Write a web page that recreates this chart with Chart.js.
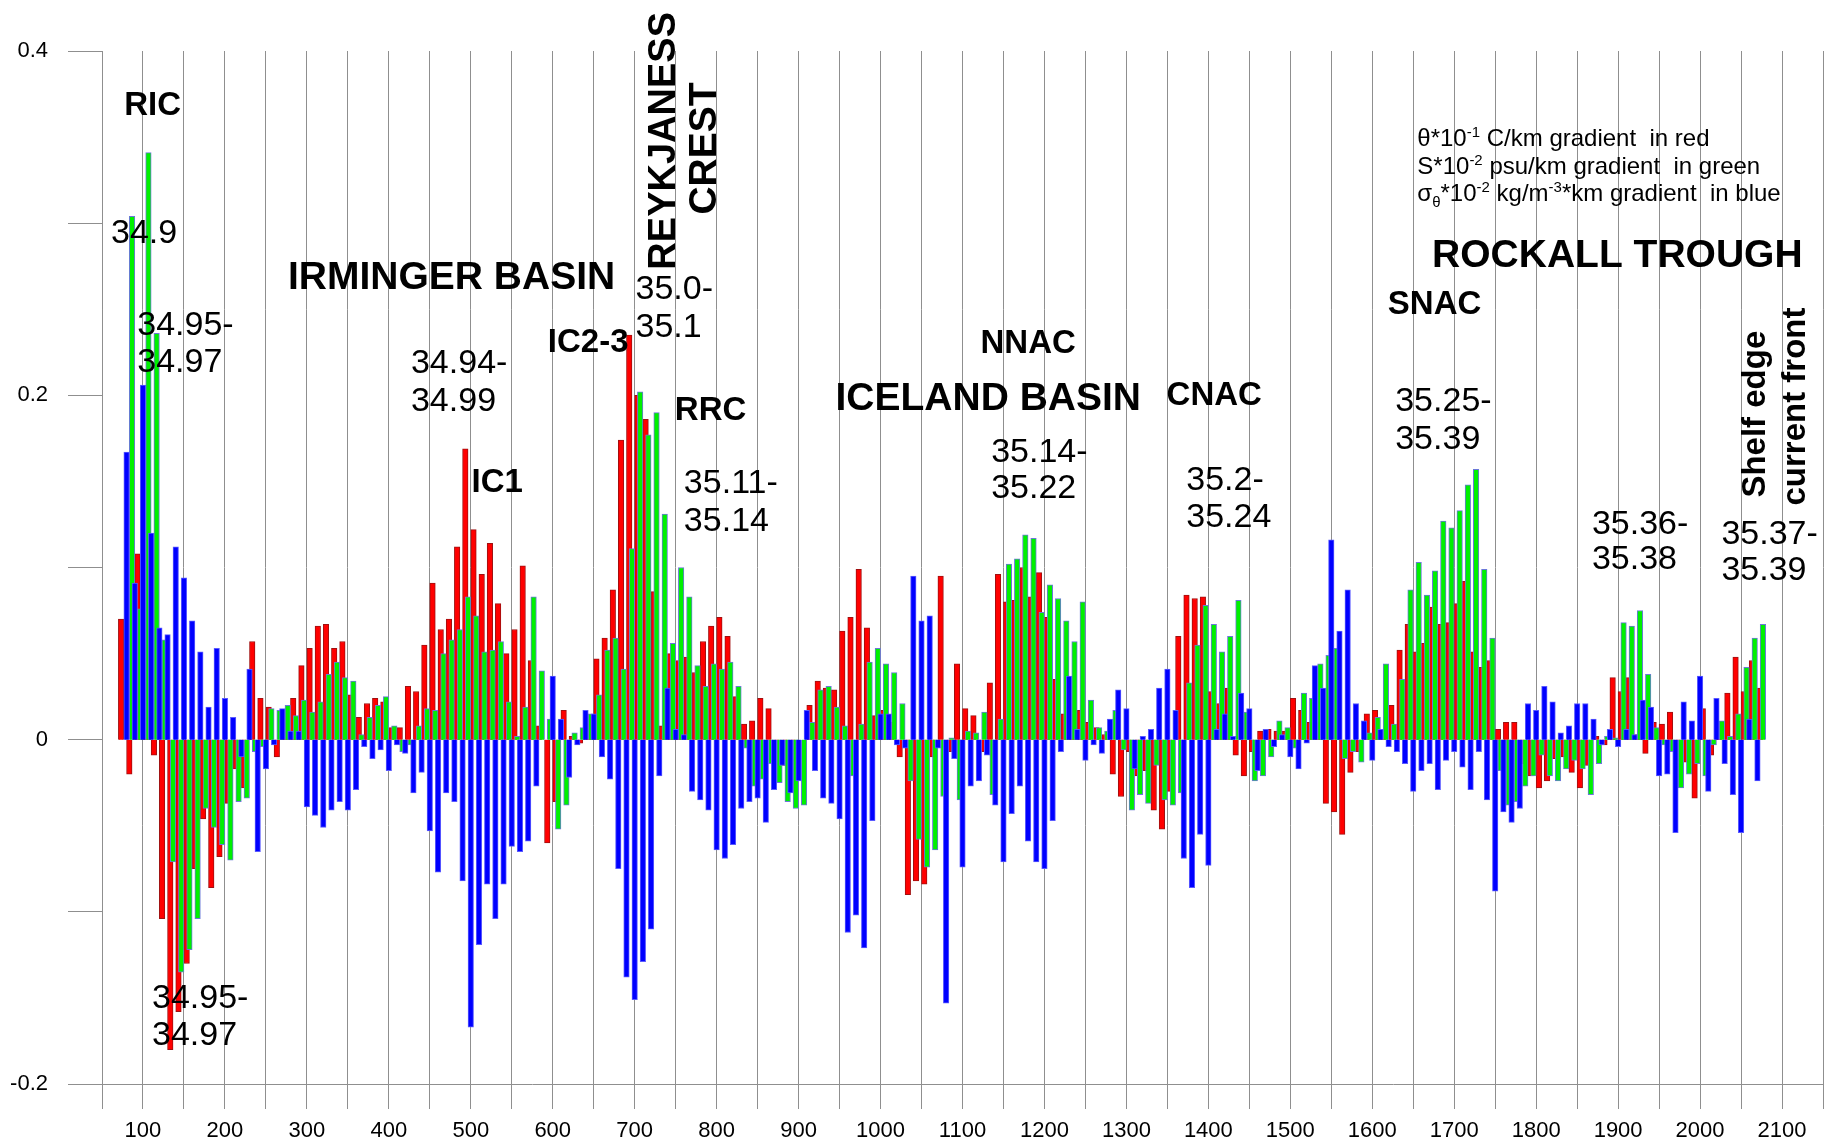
<!DOCTYPE html>
<html>
<head>
<meta charset="utf-8">
<script src="https://cdn.jsdelivr.net/npm/chart.js@4.4.1/dist/chart.umd.min.js"></script>
<style>
  html, body { margin: 0; padding: 0; background: #fff; }
  canvas { display: block; }
</style>
</head>
<body>
<canvas id="chart" width="1824" height="1146"></canvas>
<script>
// Station positions along the section (km)
const km = [
  80, 90, 100, 110, 120, 130, 140, 150, 160, 170,
  180, 190, 200, 210, 220, 230, 240, 250, 260, 270,
  280, 290, 300, 310, 320, 330, 340, 350, 360, 370,
  380, 390, 400, 410, 420, 430, 440, 450, 460, 470,
  480, 490, 500, 510, 520, 530, 540, 550, 560, 570,
  580, 590, 600, 610, 620, 630, 640, 650, 660, 670,
  680, 690, 700, 710, 720, 730, 740, 750, 760, 770,
  780, 790, 800, 810, 820, 830, 840, 850, 860, 870,
  880, 890, 900, 910, 920, 930, 940, 950, 960, 970,
  980, 990, 1000, 1010, 1020, 1030, 1040, 1050, 1060, 1070,
  1080, 1090, 1100, 1110, 1120, 1130, 1140, 1150, 1160, 1170,
  1180, 1190, 1200, 1210, 1220, 1230, 1240, 1250, 1260, 1270,
  1280, 1290, 1300, 1310, 1320, 1330, 1340, 1350, 1360, 1370,
  1380, 1390, 1400, 1410, 1420, 1430, 1440, 1450, 1460, 1470,
  1480, 1490, 1500, 1510, 1520, 1530, 1540, 1550, 1560, 1570,
  1580, 1590, 1600, 1610, 1620, 1630, 1640, 1650, 1660, 1670,
  1680, 1690, 1700, 1710, 1720, 1730, 1740, 1750, 1760, 1770,
  1780, 1790, 1800, 1810, 1820, 1830, 1840, 1850, 1860, 1870,
  1880, 1890, 1900, 1910, 1920, 1930, 1940, 1950, 1960, 1970,
  1980, 1990, 2000, 2010, 2020, 2030, 2040, 2050, 2060, 2070,
  2080
];

// theta gradient (red)
const thetaGrad = [
  0.07, -0.02, 0.108, 0.05, -0.009, -0.104, -0.18, -0.158, -0.13, -0.075,
  -0.046, -0.086, -0.068, -0.037, -0.017, -0.028, 0.057, 0.024, 0.019, -0.01,
  0.01, 0.024, 0.043, 0.053, 0.066, 0.067, 0.053, 0.057, 0.026, 0.013,
  0.021, 0.024, 0.022, 0.007, 0.007, 0.031, 0.028, 0.055, 0.091, 0.064,
  0.07, 0.112, 0.169, 0.122, 0.096, 0.114, 0.079, 0.05, 0.064, 0.101,
  0.046, 0.008, -0.06, -0.036, 0.017, 0.002, -0.002, 0.01, 0.047, 0.059,
  0.087, 0.174, 0.235, 0.2, 0.186, 0.086, 0.008, 0.05, 0.046, 0.048,
  0.039, 0.057, 0.066, 0.071, 0.06, 0.025, 0.009, 0.011, 0.024, 0.018,
  -0.009, -0.015, -0.01, 0, 0.02, 0.034, 0.03, 0.029, 0.063, 0.071,
  0.099, 0.065, 0.014, 0.017, 0.01, -0.01, -0.09, -0.082, -0.084, -0.01,
  0.095, -0.007, 0.044, 0.018, 0.014, -0.007, 0.033, 0.096, 0.08, 0.081,
  0.1, 0.083, 0.097, 0.071, 0.035, 0.015, 0.017, 0.017, 0.01, 0.007,
  0.003, -0.02, -0.033, -0.007, -0.021, -0.018, -0.041, -0.052, -0.03, 0.06,
  0.084, 0.082, 0.083, 0.028, 0.021, 0.03, -0.009, -0.021, -0.007, 0.005,
  0.006, 0.005, 0.005, 0.024, 0.017, 0.01, 0.01, -0.037, -0.042, -0.055,
  -0.019, -0.007, 0.015, 0.017, 0.005, 0.02, 0.052, 0.067, 0.051, 0.056,
  0.077, 0.067, 0.068, 0.079, 0.092, 0.051, 0.042, 0.046, 0.006, 0.01,
  0.01, -0.014, -0.021, -0.028, -0.024, -0.011, -0.01, -0.019, -0.028, -0.015,
  0.002, -0.003, 0.036, 0.028, 0.036, 0.003, -0.008, 0.01, 0.009, 0.016,
  -0.013, -0.013, -0.034, 0.018, -0.009, 0.009, 0.027, 0.048, 0.028, 0.046,
  0.03
];

// salinity gradient (green)
const salGrad = [
  0, 0.304, 0.076, 0.341, 0.236, 0.058, -0.071, -0.135, -0.122, -0.104,
  -0.04, -0.051, -0.061, -0.07, -0.036, -0.034, -0.007, -0.004, 0.018, 0.017,
  0.02, 0.014, 0.023, 0.016, 0.022, 0.038, 0.045, 0.036, 0.034, 0.003,
  0.013, 0.02, 0.025, 0.008, -0.007, -0.003, 0.008, 0.018, 0.017, 0.05,
  0.058, 0.064, 0.083, 0.072, 0.051, 0.052, 0.057, 0.022, 0.002, 0.019,
  0.083, 0.04, 0.012, -0.052, -0.038, 0.004, 0.007, 0.015, 0.026, 0.052,
  0.059, 0.041, 0.111, 0.202, 0.177, 0.19, 0.131, 0.056, 0.1, 0.083,
  0.043, 0.031, 0.044, 0.041, 0.045, 0.031, -0.005, -0.027, -0.023, -0.014,
  -0.025, -0.036, -0.04, -0.038, 0.01, 0.029, 0.031, 0.019, 0.008, -0.021,
  0.009, 0.045, 0.053, 0.044, 0.039, 0.021, -0.024, -0.058, -0.074, -0.064,
  -0.033, 0.001, -0.035, 0.005, 0.004, 0.016, -0.032, 0.012, 0.102, 0.105,
  0.119, 0.117, 0.074, 0.09, 0.082, 0.069, 0.057, 0.08, 0.023, 0.007,
  0.005, 0.017, -0.006, -0.041, -0.032, -0.037, -0.015, -0.035, -0.038, -0.031,
  0.033, 0.055, 0.078, 0.067, 0.051, 0.06, 0.081, 0.016, -0.024, -0.021,
  -0.01, 0.011, 0.007, -0.005, 0.027, 0.024, 0.044, 0.049, 0.053, -0.011,
  -0.007, -0.013, 0.004, 0.013, 0.044, 0.009, 0.035, 0.087, 0.103, 0.084,
  0.098, 0.127, 0.123, 0.133, 0.148, 0.157, 0.099, 0.059, -0.018, -0.038,
  -0.036, -0.027, -0.021, -0.009, -0.021, -0.024, -0.017, -0.012, -0.017, -0.032,
  -0.014, 0.002, 0.001, 0.068, 0.066, 0.075, 0.038, 0.007, -0.003, -0.007,
  -0.028, -0.02, -0.014, -0.021, -0.003, 0.011, 0.002, 0.015, 0.042, 0.059,
  0.067
];

// sigma-theta gradient (blue)
const sigmaGrad = [
  0.167, 0.091, 0.206, 0.12, 0.065, 0.061, 0.112, 0.094, 0.069, 0.051,
  0.019, 0.053, 0.024, 0.013, -0.01, 0.041, -0.065, -0.017, -0.003, 0.018,
  0.005, 0.005, -0.039, -0.044, -0.051, -0.041, -0.036, -0.041, -0.029, -0.004,
  -0.011, -0.006, -0.018, -0.003, -0.008, -0.031, -0.019, -0.053, -0.077, -0.031,
  -0.036, -0.082, -0.167, -0.119, -0.084, -0.104, -0.084, -0.062, -0.065, -0.059,
  -0.027, 0, 0.037, 0.012, -0.022, -0.003, 0.017, 0.015, -0.01, -0.023,
  -0.075, -0.138, -0.151, -0.129, -0.11, -0.021, 0.03, 0.006, 0.003, -0.03,
  -0.035, -0.041, -0.064, -0.069, -0.061, -0.04, -0.036, -0.034, -0.048, -0.029,
  -0.015, -0.031, -0.024, 0.017, -0.018, -0.034, -0.037, -0.046, -0.112, -0.102,
  -0.121, -0.047, 0.015, 0.015, -0.003, -0.005, 0.095, 0.069, 0.072, -0.005,
  -0.153, -0.011, -0.074, -0.027, -0.024, -0.009, -0.038, -0.071, -0.043, -0.027,
  -0.059, -0.071, -0.075, -0.047, -0.007, 0.037, 0.006, -0.012, -0.003, -0.008,
  0.012, 0.029, 0.018, -0.017, 0.002, 0.006, 0.03, 0.041, 0.017, -0.069,
  -0.086, -0.055, -0.073, 0.006, 0.015, 0.002, 0.027, 0.018, -0.018, 0.006,
  -0.004, 0.003, -0.01, -0.017, -0.002, 0.043, 0.03, 0.116, 0.063, 0.087,
  0.021, 0.011, -0.012, 0.006, -0.004, -0.007, -0.014, -0.03, -0.018, -0.014,
  -0.029, -0.012, -0.007, -0.016, -0.029, -0.007, -0.035, -0.088, -0.042, -0.048,
  -0.04, 0.021, 0.017, 0.031, 0.022, 0.004, 0.008, 0.021, 0.021, 0.012,
  -0.003, 0.006, -0.004, 0.006, 0.003, 0.023, 0.019, -0.021, -0.02, -0.054,
  0.022, 0.011, 0.037, -0.03, 0.024, -0.014, -0.032, -0.054, 0.012, -0.024,
  0
];

// y tick labels shown (others are plain tick marks)
const yLabels = ['-0.2', '0', '0.2', '0.4'];

// region / front names: [text, km, value]
const bigNames = [
  ['IRMINGER BASIN', 277, 0.268],
  ['ICELAND BASIN', 945, 0.1976],
  ['ROCKALL TROUGH', 1673, 0.2806]
];
const frontNames = [
  ['RIC', 77, 0.368],
  ['IC1', 501, 0.149],
  ['IC2-3', 594, 0.2307],
  ['RRC', 749, 0.1909],
  ['NNAC', 1122, 0.2301],
  ['CNAC', 1349, 0.1999],
  ['SNAC', 1619, 0.2528]
];
// rotated names: [text, km (centre), value (start), size]
const verticalNames = [
  ['REYKJANESS', 736.5, 0.273, 38],
  ['CREST', 785.5, 0.305, 39],
  ['Shelf edge', 2068, 0.1406, 33],
  ['current front', 2117, 0.136, 33]
];
// salinity ranges: [text, km, value]
const salLabels = [
  ['34.9', 61, 0.294],
  ['34.95-', 93, 0.2405], ['34.97', 93, 0.219],
  ['34.95-', 111, -0.1505], ['34.97', 111, -0.172],
  ['34.94-', 427, 0.2185], ['34.99', 427, 0.1964],
  ['35.0-', 701, 0.2615], ['35.1', 701, 0.2394],
  ['35.11-', 760, 0.1488], ['35.14', 760, 0.1267],
  ['35.14-', 1135, 0.1668], ['35.22', 1135, 0.1458],
  ['35.2-', 1373, 0.1505], ['35.24', 1373, 0.129],
  ['35.25-', 1628, 0.1961], ['35.39', 1628, 0.1743],
  ['35.36-', 1868, 0.1249], ['35.38', 1868, 0.1046],
  ['35.37-', 2026, 0.1191], ['35.39', 2026, 0.0982]
];
// key text, pieces with sup/sub
const keyLines = [
  [['θ*10'], ['-1', 'sup'], [' C/km gradient  in red']],
  [['S*10'], ['-2', 'sup'], [' psu/km gradient  in green']],
  [['σ'], ['θ', 'sub'], ['*10'], ['-2', 'sup'], [' kg/m'], ['-3', 'sup'], ['*km gradient  in blue']]
];
const keyPos = { km: 1655, rows: [0.3446, 0.3283, 0.3126] };

const FONT = '"Liberation Sans", Arial, sans-serif';
const GRID = '#8f8f8f';

const textPlugin = {
  id: 'texts',
  afterDatasetsDraw(chart) {
    const ctx = chart.ctx;
    const xs = chart.scales.x;
    const ys = chart.scales.y;
    ctx.save();
    ctx.fillStyle = '#000';
    ctx.textAlign = 'left';
    ctx.textBaseline = 'middle';

    ctx.font = 'bold 39px ' + FONT;
    for (const [t, k, v] of bigNames) {
      ctx.fillText(t, xs.getPixelForValue(k), ys.getPixelForValue(v));
    }
    ctx.font = 'bold 33px ' + FONT;
    for (const [t, k, v] of frontNames) {
      ctx.fillText(t, xs.getPixelForValue(k), ys.getPixelForValue(v));
    }
    ctx.font = '34px ' + FONT;
    for (const [t, k, v] of salLabels) {
      ctx.fillText(t, xs.getPixelForValue(k), ys.getPixelForValue(v));
    }
    for (const [t, k, v, size] of verticalNames) {
      ctx.save();
      ctx.font = 'bold ' + size + 'px ' + FONT;
      ctx.translate(xs.getPixelForValue(k), ys.getPixelForValue(v));
      ctx.rotate(-Math.PI / 2);
      ctx.fillText(t, 0, 0);
      ctx.restore();
    }

    // key
    ctx.textBaseline = 'alphabetic';
    keyLines.forEach((pieces, row) => {
      let px = xs.getPixelForValue(keyPos.km);
      const py = ys.getPixelForValue(keyPos.rows[row]);
      for (const [t, kind] of pieces) {
        let dy = 0;
        if (kind === 'sup') { ctx.font = '15px ' + FONT; dy = -9; }
        else if (kind === 'sub') { ctx.font = '15px ' + FONT; dy = 6; }
        else { ctx.font = '24px ' + FONT; }
        ctx.fillText(t, px, py + dy);
        px += ctx.measureText(t).width;
      }
    });
    ctx.restore();
  }
};

function series(values, shift) {
  return km.map((k, i) => ({ x: k + shift, y: values[i] }));
}

const ctx = document.getElementById('chart').getContext('2d');
const chart = new Chart(ctx, {
  type: 'bar',
  data: {
    datasets: [
      {
        label: 'sigma-theta',
        data: series(sigmaGrad, 0),
        backgroundColor: '#0000ff',
        borderColor: '#5a5aff',
        borderWidth: 1,
        order: 1
      },
      {
        label: 'salinity',
        data: series(salGrad, -3.33),
        backgroundColor: '#00f000',
        borderColor: '#6a78d8',
        borderWidth: 1,
        order: 2
      },
      {
        label: 'theta',
        data: series(thetaGrad, -6.67),
        backgroundColor: '#ff0000',
        borderColor: '#a01010',
        borderWidth: 1,
        order: 3
      }
    ]
  },
  options: {
    responsive: false,
    devicePixelRatio: 1,
    animation: false,
    events: [],
    layout: { padding: { top: 51, right: 1, left: 0, bottom: 0 } },
    datasets: {
      bar: { grouped: false, barThickness: 5.5 }
    },
    plugins: {
      legend: { display: false },
      tooltip: { enabled: false }
    },
    scales: {
      x: {
        type: 'linear',
        min: 50,
        max: 2150,
        offset: false,
        afterFit: (s) => {
          s.height = 62;
          s.paddingLeft = 0;
          s.paddingRight = 0;
        },
        ticks: {
          stepSize: 50,
          autoSkip: false,
          maxRotation: 0,
          padding: 9,
          color: '#000',
          font: { family: FONT, size: 22 },
          callback: (v) => (v % 100 === 0 ? String(v) : '')
        },
        grid: { color: GRID, lineWidth: 1, tickLength: 25, drawOnChartArea: true, offset: false },
        border: { display: true, color: GRID }
      },
      y: {
        min: -0.2,
        max: 0.4,
        afterFit: (s) => { s.width = 102; },
        ticks: {
          stepSize: 0.1,
          padding: 20,
          color: '#000',
          font: { family: FONT, size: 22 },
          callback: (v) => {
            const r = Math.round(v * 10);
            const txt = r === 0 ? '0' : (r / 10).toString();
            return yLabels.includes(txt) ? txt : '';
          }
        },
        grid: { drawOnChartArea: false, color: GRID, tickLength: 34 },
        border: { display: true, color: GRID }
      }
    }
  },
  plugins: [textPlugin]
});
</script>
</body>
</html>
